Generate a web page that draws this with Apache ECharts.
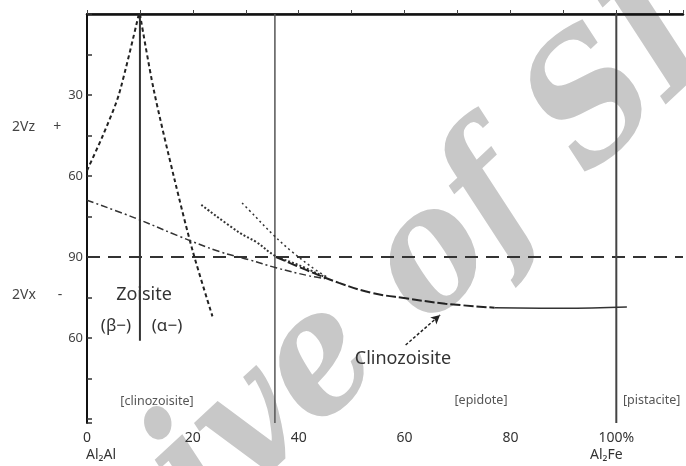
<!DOCTYPE html>
<html lang="en">
<head>
  <meta charset="UTF-8">
  <title>Zoisite - Clinozoisite - Epidote 2V</title>
  <script src="https://cdn.jsdelivr.net/npm/echarts@6/dist/echarts.min.js"></script>
</head>
<body style="margin:0">
<div id="main" style="width:686px;height:466px"></div>
<script>
  // x: mol % Al2Fe, y: 0 = 2Vz 0 at top, 90 = 2V 90, beyond 90 is 2Vx (180 - value)
  var xLabels = {0:'0', 20:'20', 40:'40', 60:'60', 80:'80', 100:'100%'};
  var yLabels = {30:'30', 60:'60', 90:'90', 120:'60'};

  var zoisiteLeft  = [[0,58],[3,45],[6,30],[9.8,0]];
  var zoisiteRight = [[10,0],[12.6,28],[16.5,61],[20,88],[23.7,112]];
  var dashDotCurve = [[0,69],[9,75.5],[17,82],[25,88],[30.6,91],[35.7,94],[42,97],[45,98]];
  var dottedCurve  = [[21.6,70.7],[28.8,81],[32,84.5],[35.5,89.5],[40,93],[45,97.5]];
  var shortCurve   = [[29.3,70],[30.6,72.6],[35.3,82],[38.7,88],[43.2,94.8],[45.7,97.8]];
  var clinoDashed  = [[35.7,90],[41.4,94.8],[47.6,99.6],[53.8,103.3],[60.2,105.3],[67.7,107.3],[77,108.8]];
  var clinoSolid   = [[77,108.8],[90,109],[102,108.5]];
  var line90   = [[0,90],[112.6,90]];
  var vline10  = [[10,0],[10,121]];
  var vline35  = [[35.5,0],[35.5,151.5]];
  var vline100 = [[100,0],[100,151.5]];
  var arrowFrom = [60.2,122.6], arrowTo = [66.7,111.5];

  var chart = echarts.init(document.getElementById('main'));
  var font = 'Noto Sans';

  function plain(data, type, width, color, smooth){
    return {type:'line', data:data, symbol:'none', smooth:smooth || false, silent:true,
      lineStyle:{color:color || '#222', width:width, type:type}};
  }

  chart.setOption({
    animation:false,
    grid:{left:87, right:0, top:14, bottom:43},
    xAxis:[{
      type:'value', min:0, max:112.6, interval:10,
      axisLine:{lineStyle:{color:'#444', width:1.5}},
      axisTick:{inside:true, length:4, lineStyle:{color:'#444'}},
      splitLine:{show:false},
      axisLabel:{fontFamily:font, fontSize:14, color:'#333', margin:8,
        formatter:function(v){ return xLabels[v] || ''; }}
    },{
      type:'value', min:0, max:112.6, position:'top',
      axisLine:{lineStyle:{color:'#111', width:2.5}},
      axisTick:{show:false}, axisLabel:{show:false}, splitLine:{show:false}
    }],
    yAxis:{
      type:'value', min:0, max:151.5, interval:15, inverse:true,
      axisLine:{lineStyle:{color:'#111', width:2}},
      axisTick:{inside:true, length:5, lineStyle:{color:'#333', width:1.5}},
      splitLine:{show:false},
      axisLabel:{fontFamily:font, fontSize:13, color:'#444', margin:4,
        formatter:function(v){ return yLabels[v] || ''; }}
    },
    series:[
      plain(line90, [13,8], 2, '#333'),
      plain(vline10, 'solid', 2, '#333'),
      plain(vline35, 'solid', 1.5, '#555'),
      plain(vline100, 'solid', 2, '#444'),
      plain(zoisiteLeft, [4,3], 2, '#222', 0.25),
      plain(zoisiteRight, [4,3], 2, '#222', 0.3),
      plain(dashDotCurve, [7,3,2,3], 1.5, '#333', 0.4),
      plain(dottedCurve, [2,2], 2, '#333', 0.4),
      plain(shortCurve, [2,3], 1.5, '#333', 0.4),
      plain(clinoDashed, [10,3], 2, '#222', 0.4),
      Object.assign(plain(clinoSolid, 'solid', 1.5, '#333', 0.4), {
        markLine:{silent:true, symbol:['none','arrow'], symbolSize:[7,9],
          label:{show:false},
          lineStyle:{color:'#222', width:1.5, type:[3,2]},
          data:[[{coord:arrowFrom},{coord:arrowTo}]]}
      })
    ],
    graphic:[
      {type:'text', z:-10, x:335, y:352, rotation:0.75,
        style:{text:'Archive of SID', font:'italic bold 170px "DejaVu Serif Condensed", "DejaVu Serif"', fill:'#c8c8c8',
          align:'center', verticalAlign:'middle'}},
      {type:'text', left:12, top:120, style:{text:'2Vz     +', font:'14px "Noto Sans"', fill:'#444'}},
      {type:'text', left:12, top:288, style:{text:'2Vx      -', font:'14px "Noto Sans"', fill:'#444'}},
      {type:'text', x:144, y:295, style:{text:'Zoisite', font:'18px "Noto Sans"', fill:'#333', align:'center', verticalAlign:'middle'}},
      {type:'text', x:116, y:326, style:{text:'(β−)', font:'17px "Noto Sans"', fill:'#333', align:'center', verticalAlign:'middle'}},
      {type:'text', x:167, y:326, style:{text:'(α−)', font:'17px "Noto Sans"', fill:'#333', align:'center', verticalAlign:'middle'}},
      {type:'text', x:403, y:359, style:{text:'Clinozoisite', font:'18px "Noto Sans"', fill:'#333', align:'center', verticalAlign:'middle'}},
      {type:'text', x:157, y:401, style:{text:'[clinozoisite]', font:'12.5px "Noto Sans"', fill:'#555', align:'center', verticalAlign:'middle'}},
      {type:'text', x:481, y:400, style:{text:'[epidote]', font:'12.5px "Noto Sans"', fill:'#555', align:'center', verticalAlign:'middle'}},
      {type:'text', x:623, y:400, style:{text:'[pistacite]', font:'12.5px "Noto Sans"', fill:'#555', align:'left', verticalAlign:'middle'}},
      {type:'text', x:86, y:455, style:{text:'Al\u2082Al', font:'14px "Noto Sans"', fill:'#333', align:'left', verticalAlign:'middle'}},
      {type:'text', x:590, y:455, style:{text:'Al\u2082Fe', font:'14px "Noto Sans"', fill:'#333', align:'left', verticalAlign:'middle'}}
    ]
  });
</script>
</body>
</html>
